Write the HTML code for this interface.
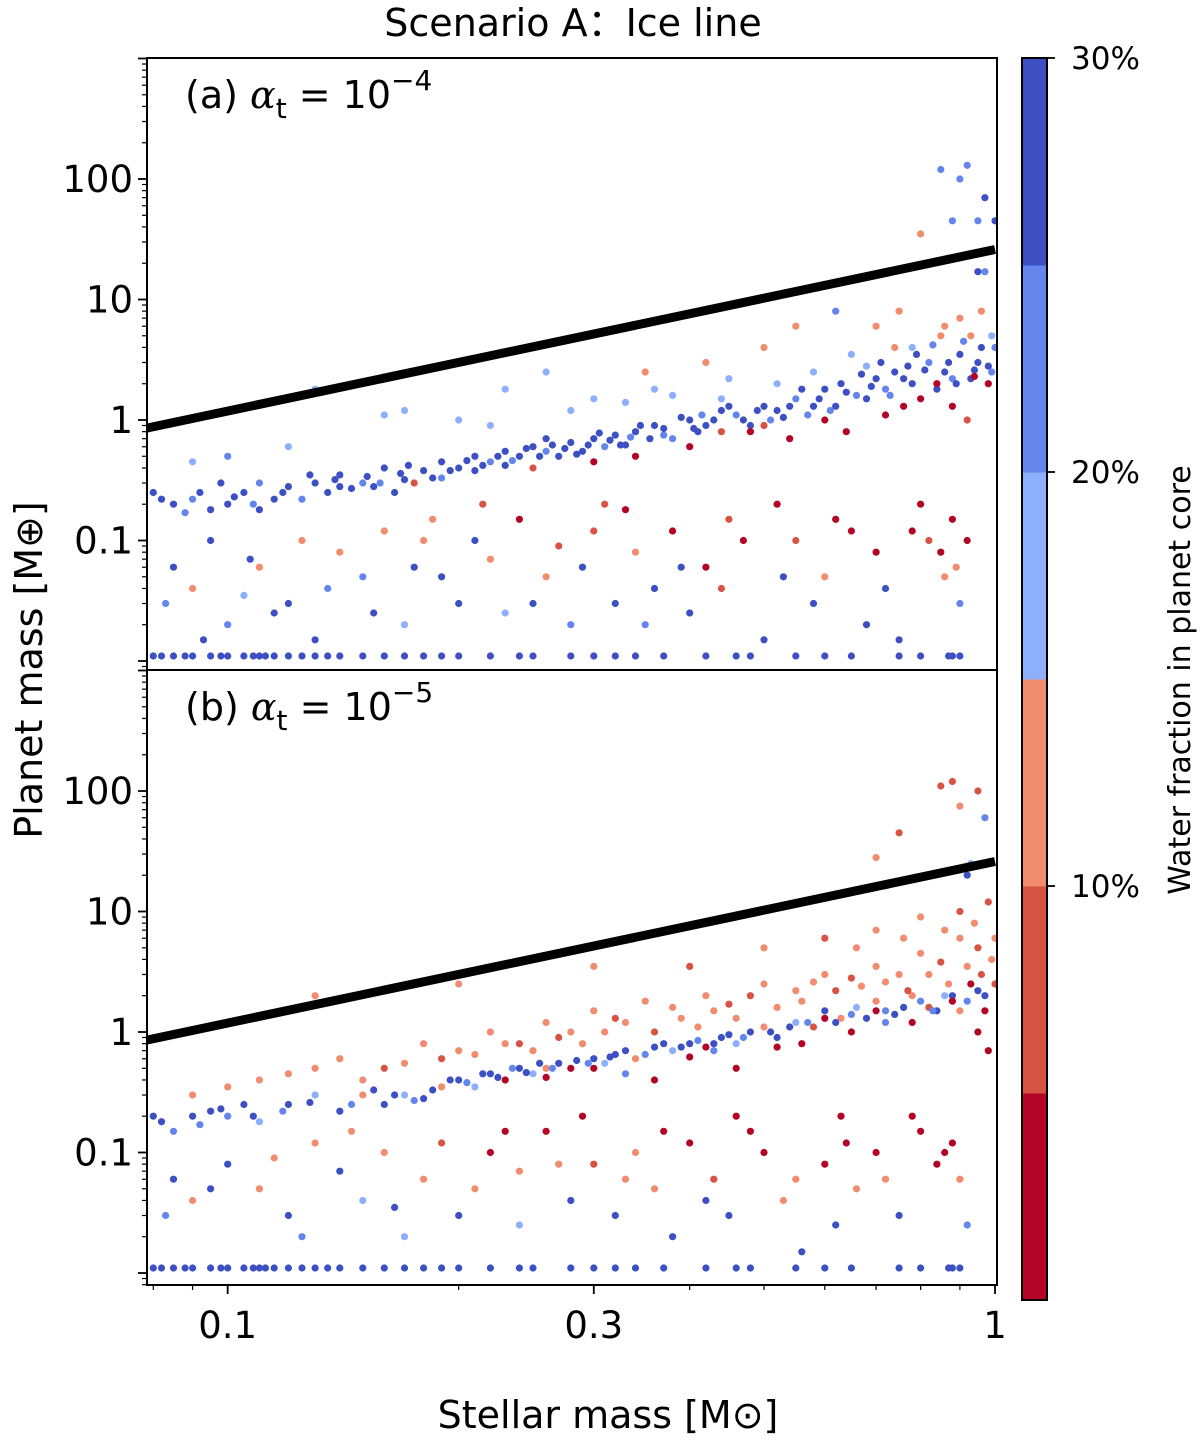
<!DOCTYPE html>
<html><head><meta charset="utf-8"><style>
body{margin:0;background:#fff}
svg{display:block;font-family:"DejaVu Sans","Liberation Sans",sans-serif}
</style></head><body>
<svg id="chart" width="1200" height="1445" viewBox="0 0 1200 1445" xmlns="http://www.w3.org/2000/svg">
<text x="573" y="36" font-size="38" text-anchor="middle">Scenario A：Ice line</text>
<text x="0" y="0" font-size="38" text-anchor="middle" transform="translate(42,670) rotate(-90)">Planet mass [M⊕]</text>
<text x="608" y="1428" font-size="38" text-anchor="middle">Stellar mass [M⊙]</text>
<text x="0" y="0" font-size="30" text-anchor="middle" transform="translate(1190,680) rotate(-90)">Water fraction in planet core</text>
<g id="plot"></g>
</svg>
<script>
// ---- data ----
const xTicks = [0.1, 0.3, 1];
const xTickLabels = ["0.1", "0.3", "1"];
const yTicks = [0.1, 1, 10, 100];
const yTickLabels = ["0.1", "1", "10", "100"];
const cbTicks = [10, 20, 30];
const cbTickLabels = ["10%", "20%", "30%"];
const cbColors = ["#b40426", "#d75445", "#f18c6e", "#8db0fe", "#6485ec", "#3d50c3"];
const lineEnds = [[0.078, 0.85], [1.0, 26]];
const panelLabels = ["(a)", "(b)"];
const panelExps = ["−4", "−5"];
// [stellar mass, planet mass, water %]
const panelA = [
[0.08,0.25,28],[0.085,0.2,28],[0.09,0.22,22],[0.095,0.18,28],[0.1,0.2,28],[0.105,0.25,28],[0.11,0.3,22],[0.115,0.22,28],[0.12,0.28,28],[0.13,0.3,28],[0.135,0.25,28],[0.14,0.35,28],[0.15,0.3,22],[0.155,0.28,28],[0.16,0.4,28],[0.17,0.32,28],[0.175,0.3,7],[0.18,0.38,28],[0.19,0.45,28],[0.2,0.4,28],[0.21,0.5,28],[0.22,0.45,22],[0.23,0.55,28],[0.24,0.5,28],[0.25,0.6,28],[0.26,0.55,22],[0.27,0.5,28],[0.28,0.65,28],[0.3,0.7,28],[0.31,0.6,22],[0.32,0.75,28],[0.34,0.8,28],[0.36,0.9,28],[0.38,0.7,22],[0.4,1.0,28],[0.42,0.9,28],[0.44,1.2,28],[0.46,1.1,22],[0.48,0.9,28],[0.5,1.3,28],[0.52,1.2,28],[0.55,1.5,22],[0.58,1.3,28],[0.6,1.8,28],[0.63,2.0,28],[0.66,1.6,22],[0.7,2.2,28],[0.74,2.5,28],[0.78,2.0,28],[0.82,3.0,22],[0.86,2.5,28],[0.9,3.5,28],[0.95,3.0,28],[1.0,4,22],
[0.14,0.28,28],[0.19,0.33,22],[0.23,0.42,28],[0.29,0.55,28],[0.33,0.62,28],[0.37,0.75,22],[0.41,0.8,28],[0.47,1.0,28],[0.53,1.05,28],[0.57,1.1,22],[0.62,1.3,28],[0.68,1.5,28],[0.72,1.8,22],[0.77,2.8,28],[0.84,1.8,28],[0.88,2.2,22],[0.93,2.2,28],[0.98,2.8,28],[0.11,0.18,28],[0.125,0.22,22],[0.165,0.25,28],[0.21,0.38,28],[0.26,0.7,28],
[0.082,0.22,28],[0.088,0.17,22],[0.092,0.25,28],[0.098,0.3,28],[0.102,0.23,28],[0.108,0.2,22],[0.118,0.25,28],[0.128,0.35,28],[0.138,0.32,28],[0.145,0.27,28],[0.152,0.34,28],[0.158,0.3,22],[0.168,0.36,28],[0.172,0.42,28],[0.185,0.33,28],[0.195,0.38,28],[0.205,0.46,28],[0.215,0.42,28],[0.225,0.5,28],[0.235,0.46,22],[0.245,0.58,28],[0.255,0.5,28],[0.265,0.62,28],[0.275,0.58,28],[0.285,0.52,28],[0.295,0.62,28],[0.305,0.78,28],[0.315,0.68,28],[0.325,0.62,28],[0.335,0.72,22],[0.345,0.9,28],[0.355,0.7,28],[0.37,0.85,28],[0.39,1.05,28],[0.405,0.85,28],[0.415,1.1,22],[0.43,1.0,28],[0.45,1.3,28],[0.49,1.2,28],[0.51,1.0,22],[0.54,1.3,28],[0.56,1.8,28],[0.59,1.5,28],[0.61,1.2,22],[0.64,1.7,28],[0.67,2.4,28],[0.69,1.9,28],[0.71,3.0,28],[0.73,1.6,22],[0.76,2.2,28],[0.79,3.5,28],[0.81,2.6,28],[0.83,4.2,22],[0.87,3.0,28],[0.89,2.0,28],[0.91,4.5,22],[0.94,2.6,28],[0.96,4.0,28],[0.99,2.5,22],
[0.09,0.45,17],[0.1,0.5,22],[0.12,0.6,17],[0.13,1.8,17],[0.16,1.1,17],[0.2,1.0,17],[0.23,1.8,17],[0.26,2.5,17],[0.3,1.5,17],[0.35,2.5,12],[0.42,3,12],[0.5,4,12],[0.55,6,12],[0.62,8,22],[0.7,6,12],[0.75,8,12],[0.85,5,12],[0.9,7,12],[0.95,17,28],[0.97,17,22],[0.98,2,2],[0.92,1.0,7],[0.8,1.5,2],[0.72,1.1,2],[0.6,1.0,2],[0.48,0.8,2],[0.4,0.6,2],[0.3,0.45,2],[0.25,0.4,7],[0.85,120,22],[0.9,100,22],[0.92,130,22],[0.95,45,22],[0.97,70,28],[1.0,45,28],[0.8,35,12],[0.88,45,22],[0.36,1.8,17],[0.45,2.2,17],[0.52,2.0,17],[0.65,3.5,17],[0.78,4.0,17],
[0.17,1.2,17],[0.22,0.9,17],[0.28,1.2,17],[0.33,1.4,17],[0.38,1.6,17],[0.44,1.5,17],[0.58,2.5,17],[0.68,2.8,17],[0.74,4,12],[0.86,6,12],[0.93,5,12],[0.96,8,12],[0.99,5,17],[0.64,0.8,2],[0.76,1.3,2],[0.84,2.0,2],[0.88,1.3,2],[0.94,2.3,2],[0.54,0.7,2],[0.44,0.8,7],[0.34,0.5,2],[0.5,0.9,7],
[0.085,0.06,28],[0.09,0.04,12],[0.1,0.02,22],[0.11,0.06,12],[0.12,0.03,28],[0.13,0.015,28],[0.14,0.08,12],[0.15,0.05,22],[0.16,0.12,12],[0.18,0.1,12],[0.2,0.03,28],[0.22,0.07,12],[0.24,0.15,2],[0.26,0.05,12],[0.28,0.02,22],[0.3,0.12,7],[0.32,0.03,28],[0.34,0.08,12],[0.36,0.04,28],[0.38,0.12,2],[0.42,0.06,2],[0.45,0.15,7],[0.5,0.015,28],[0.52,0.2,2],[0.55,0.1,7],[0.6,0.05,12],[0.65,0.12,2],[0.7,0.08,2],[0.75,0.015,28],[0.8,0.2,2],[0.82,0.1,7],[0.86,0.05,12],[0.88,0.15,2],[0.9,0.03,22],[0.33,0.18,2],[0.44,0.04,7],[0.27,0.09,7],[0.095,0.1,28],[0.105,0.035,17],[0.115,0.025,28],[0.17,0.02,17],[0.19,0.05,28],[0.23,0.025,17],[0.29,0.06,28],[0.4,0.025,28],[0.58,0.03,28],[0.68,0.02,28],
[0.083,0.03,22],[0.093,0.015,28],[0.107,0.07,28],[0.125,0.1,12],[0.135,0.04,22],[0.155,0.025,28],[0.175,0.06,28],[0.185,0.15,12],[0.21,0.1,28],[0.215,0.2,7],[0.25,0.03,28],[0.31,0.2,7],[0.35,0.02,22],[0.39,0.06,28],[0.47,0.1,2],[0.53,0.05,28],[0.62,0.15,2],[0.72,0.04,28],[0.78,0.12,2],[0.85,0.08,2],[0.89,0.06,12],[0.92,0.1,2],
[0.08,0.011,28],[0.085,0.011,28],[0.09,0.011,28],[0.095,0.011,28],[0.1,0.011,28],[0.105,0.011,28],[0.11,0.011,28],[0.115,0.011,28],[0.12,0.011,28],[0.13,0.011,28],[0.14,0.011,28],[0.15,0.011,28],[0.16,0.011,28],[0.18,0.011,28],[0.2,0.011,28],[0.22,0.011,28],[0.25,0.011,28],[0.28,0.011,28],[0.32,0.011,28],[0.37,0.011,28],[0.42,0.011,28],[0.48,0.011,28],[0.55,0.011,28],[0.65,0.011,28],[0.75,0.011,28],[0.8,0.011,28],[0.88,0.011,28],[0.9,0.011,28],
[0.082,0.011,28],[0.088,0.011,28],[0.098,0.011,28],[0.108,0.011,28],[0.112,0.011,28],[0.125,0.011,28],[0.135,0.011,28],[0.17,0.011,28],[0.19,0.011,28],[0.24,0.011,28],[0.3,0.011,28],[0.34,0.011,28],[0.46,0.011,28],[0.6,0.011,28],[0.87,0.011,28]
];
const panelB = [
[0.08,0.2,28],[0.085,0.15,22],[0.09,0.2,28],[0.095,0.22,28],[0.1,0.2,22],[0.105,0.25,28],[0.11,0.18,17],[0.12,0.25,28],[0.13,0.3,17],[0.14,0.22,28],[0.15,0.3,12],[0.16,0.25,28],[0.17,0.3,17],[0.18,0.28,28],[0.19,0.35,12],[0.2,0.4,28],[0.21,0.35,17],[0.22,0.45,28],[0.23,0.4,2],[0.24,0.5,28],[0.25,0.45,17],[0.26,0.5,12],[0.27,0.55,28],[0.28,0.5,2],[0.3,0.6,28],[0.31,0.55,17],[0.32,0.65,28],[0.34,0.6,12],[0.36,0.75,28],[0.38,0.7,17],[0.4,0.8,28],[0.42,0.75,2],[0.44,0.9,28],[0.46,0.8,17],[0.48,1.0,28],[0.5,1.1,12],[0.52,0.9,28],[0.55,1.2,17],[0.58,1.1,7],[0.6,1.5,28],[0.63,1.3,12],[0.66,1.6,17],[0.7,1.8,12],[0.74,1.4,28],[0.78,2.0,12],[0.82,1.6,7],[0.86,2.0,17],[0.9,1.5,12],[0.95,2.2,28],[1.0,2.5,7],
[0.082,0.18,28],[0.092,0.17,22],[0.098,0.23,28],[0.108,0.2,28],[0.118,0.22,22],[0.128,0.26,28],[0.145,0.25,22],[0.155,0.33,28],[0.165,0.3,28],[0.175,0.27,22],[0.185,0.33,28],[0.195,0.4,28],[0.205,0.38,22],[0.215,0.45,28],[0.225,0.42,28],[0.235,0.5,22],[0.245,0.46,28],[0.255,0.55,28],[0.265,0.5,22],[0.285,0.58,28],[0.295,0.55,22],[0.315,0.62,28],[0.33,0.7,28],[0.35,0.65,22],[0.37,0.8,28],[0.39,0.75,28],[0.41,0.85,22],[0.43,0.8,28],[0.45,0.95,28],[0.47,0.9,22],[0.51,1.0,28],[0.54,1.1,28],[0.57,1.2,22],[0.62,1.2,28],[0.65,1.4,22],[0.68,1.3,28],[0.72,1.5,22],[0.76,1.6,28],[0.8,1.8,22],[0.84,1.5,28],[0.88,2.0,28],[0.92,1.8,22],[0.97,2.0,28],
[0.1,0.35,12],[0.12,0.45,12],[0.14,0.6,12],[0.16,0.5,7],[0.18,0.8,12],[0.2,0.7,12],[0.22,1.0,12],[0.24,0.8,7],[0.26,1.2,12],[0.28,1.0,12],[0.3,1.5,12],[0.32,1.3,7],[0.35,1.8,12],[0.38,1.6,12],[0.42,2.0,12],[0.45,1.7,7],[0.5,2.5,12],[0.55,2.2,12],[0.6,3.0,12],[0.65,2.8,7],[0.7,3.5,12],[0.75,3.0,12],[0.8,4.5,12],[0.85,3.8,7],[0.9,6,12],[0.95,5,7],[1.0,6,12],[0.13,2.0,12],[0.2,2.5,12],[0.3,3.5,12],[0.4,3.5,7],[0.5,5,12],[0.6,6,7],[0.7,7,12],[0.8,9,12],[0.9,10,7],[0.98,12,7],
[0.09,0.3,12],[0.11,0.4,12],[0.13,0.5,12],[0.15,0.4,12],[0.17,0.55,12],[0.19,0.6,7],[0.21,0.65,12],[0.23,0.8,12],[0.25,0.7,12],[0.27,0.9,7],[0.29,0.8,12],[0.31,1.0,12],[0.33,1.2,12],[0.36,1.0,7],[0.39,1.3,12],[0.41,1.1,12],[0.43,1.5,12],[0.46,1.3,12],[0.48,2.0,7],[0.52,1.6,12],[0.56,1.8,12],[0.58,2.6,12],[0.62,2.2,7],[0.67,2.4,12],[0.72,2.6,12],[0.77,2.2,7],[0.82,3.0,12],[0.87,2.5,12],[0.92,3.5,12],[0.96,3.0,7],[0.99,4,12],[0.66,5,12],[0.76,6,12],[0.86,7,12],[0.94,8,12],
[0.85,110,7],[0.88,120,7],[0.9,75,12],[0.95,100,7],[0.97,60,22],[0.75,45,7],[0.7,28,12],[0.93,25,17],[0.92,20,28],[0.65,1.0,2],[0.56,0.8,2],[0.46,0.5,2],[0.36,0.4,2],[0.95,1.0,2],[0.98,0.7,2],[0.72,1.2,22],[0.83,1.5,22],[0.43,0.7,22],[0.33,0.45,22],
[0.26,0.42,2],[0.3,0.5,2],[0.4,0.62,2],[0.52,0.75,2],[0.6,1.3,2],[0.7,1.5,2],[0.78,1.2,2],[0.88,1.8,2],[0.93,2.5,2],[0.97,1.5,2],
[0.085,0.06,28],[0.09,0.04,12],[0.1,0.08,28],[0.11,0.05,12],[0.12,0.03,28],[0.13,0.12,12],[0.14,0.07,28],[0.15,0.04,17],[0.16,0.1,12],[0.18,0.06,12],[0.2,0.03,28],[0.22,0.1,2],[0.24,0.07,12],[0.26,0.15,2],[0.28,0.04,28],[0.3,0.08,7],[0.32,0.03,28],[0.34,0.1,12],[0.36,0.05,12],[0.38,0.02,28],[0.4,0.12,2],[0.43,0.06,7],[0.46,0.2,2],[0.5,0.1,2],[0.53,0.04,12],[0.56,0.015,28],[0.6,0.08,2],[0.63,0.2,2],[0.66,0.05,12],[0.7,0.1,2],[0.75,0.03,28],[0.8,0.15,2],[0.84,0.08,2],[0.88,0.12,2],[0.9,0.06,12],[0.92,0.025,22],[0.24,0.025,17],[0.17,0.02,17],[0.45,0.03,28],[0.62,0.025,28],
[0.083,0.03,22],[0.095,0.05,28],[0.115,0.09,12],[0.125,0.02,22],[0.145,0.15,12],[0.165,0.035,28],[0.19,0.12,7],[0.21,0.05,12],[0.23,0.15,2],[0.27,0.08,12],[0.29,0.2,2],[0.33,0.06,12],[0.37,0.15,2],[0.42,0.04,28],[0.48,0.15,2],[0.55,0.06,12],[0.64,0.12,2],[0.72,0.06,12],[0.78,0.2,2],[0.86,0.1,2],
[0.08,0.011,28],[0.085,0.011,28],[0.09,0.011,28],[0.095,0.011,28],[0.1,0.011,28],[0.105,0.011,28],[0.11,0.011,28],[0.115,0.011,28],[0.12,0.011,28],[0.13,0.011,28],[0.14,0.011,28],[0.15,0.011,28],[0.16,0.011,28],[0.18,0.011,28],[0.2,0.011,28],[0.22,0.011,28],[0.25,0.011,28],[0.28,0.011,28],[0.32,0.011,28],[0.37,0.011,28],[0.42,0.011,28],[0.48,0.011,28],[0.55,0.011,28],[0.65,0.011,28],[0.75,0.011,28],[0.8,0.011,28],[0.88,0.011,28],[0.9,0.011,28],
[0.082,0.011,28],[0.088,0.011,28],[0.098,0.011,28],[0.108,0.011,28],[0.112,0.011,28],[0.125,0.011,28],[0.135,0.011,28],[0.17,0.011,28],[0.19,0.011,28],[0.24,0.011,28],[0.3,0.011,28],[0.34,0.011,28],[0.46,0.011,28],[0.6,0.011,28],[0.87,0.011,28]
];
// ---- drawing ----
const NS = "http://www.w3.org/2000/svg";
const g = document.getElementById("plot");
function mk(tag, attrs, parent) {
  const e = document.createElementNS(NS, tag);
  for (const k in attrs) e.setAttribute(k, attrs[k]);
  (parent || g).appendChild(e);
  return e;
}
const X0 = 147, X1 = 997;
const xMin = 0.0785, xMax = 1.006;
function xs(v) { return X0 + (Math.log10(v) - Math.log10(xMin)) / (Math.log10(xMax) - Math.log10(xMin)) * (X1 - X0); }
const panels = [{top: 58, bot: 670, y1: 420, data: panelA}, {top: 670, bot: 1285, y1: 1032, data: panelB}];
function colorFor(w) { const i = Math.max(0, Math.min(5, Math.floor(w / 5))); return cbColors[i]; }
panels.forEach((p, pi) => {
  const ys = v => p.y1 - Math.log10(v) * 120.5;
  const pg = mk("g", {});
  
  
  const clipId = "clip" + pi;
  const cp = mk("clipPath", {id: clipId}, pg);
  mk("rect", {x: X0, y: p.top, width: X1 - X0, height: p.bot - p.top}, cp);
  const pts = mk("g", {"clip-path": "url(#" + clipId + ")"}, pg);
  p.data.forEach(d => {
    const c = mk("circle", {cx: xs(d[0]).toFixed(1), cy: ys(d[1]).toFixed(1), r: 3.6, fill: colorFor(d[2])}, pts);
    
    
  });
  const ln = mk("line", {x1: xs(lineEnds[0][0]), y1: ys(lineEnds[0][1]), x2: xs(lineEnds[1][0]), y2: ys(lineEnds[1][1]), stroke: "#000", "stroke-width": 9}, pts);
  
  
  const fr = mk("rect", {x: X0, y: p.top, width: X1 - X0, height: p.bot - p.top, fill: "none", stroke: "#000", "stroke-width": 2}, pg);
  
  
  for (let e = -3; e <= 3; e++) for (let m = 1; m <= 9; m++) {
    const v = m * Math.pow(10, e), y = ys(v);
    if (y < p.top - 0.5 || y > p.bot + 0.5) continue;
    mk("line", {x1: X0, x2: X0 - (m === 1 ? 9 : 5), y1: y, y2: y, stroke: "#000", "stroke-width": m === 1 ? 1.8 : 1.2}, pg);
  }
  yTicks.forEach((v, i) => {
    const t = mk("text", {x: X0 - 14, y: ys(v) + 13, "font-size": 37, "text-anchor": "end"}, pg);
    t.textContent = yTickLabels[i];
    
    
  });
  const lab = mk("text", {x: 185, y: p.top + 50, "font-size": 38}, pg);
  
  
  lab.innerHTML = panelLabels[pi] + ' <tspan font-style="italic" font-family="DejaVu Serif,serif">α</tspan><tspan font-size="28" dy="10">t</tspan><tspan dy="-10"> = 10</tspan><tspan font-size="28" dy="-18">' + panelExps[pi] + '</tspan>';
});
const xb = 1285;
for (let e = -2; e <= 0; e++) for (let m = 1; m <= 9; m++) {
  const v = m * Math.pow(10, e), x = xs(v);
  if (x < X0 - 0.5 || x > X1 + 0.5) continue;
  const major = xTicks.indexOf(+v.toFixed(3)) >= 0;
  mk("line", {x1: x, x2: x, y1: xb, y2: xb + (major ? 9 : 5), stroke: "#000", "stroke-width": major ? 1.8 : 1.2});
}
xTicks.forEach((v, i) => {
  const t = mk("text", {x: xs(v), y: 1338, "font-size": 37, "text-anchor": "middle"});
  t.textContent = xTickLabels[i];
  
  
});
const cbTop = 58, cbBot = 1300, cbX = 1022, cbW = 25;
const seg = (cbBot - cbTop) / cbColors.length;
cbColors.forEach((c, i) => {
  const r = mk("rect", {x: cbX, y: cbBot - (i + 1) * seg, width: cbW, height: seg + 0.5, fill: c});
  
  
});
mk("rect", {x: cbX, y: cbTop, width: cbW, height: cbBot - cbTop, fill: "none", stroke: "#000", "stroke-width": 2});
cbTicks.forEach((v, i) => {
  const y = cbBot - v / 30 * (cbBot - cbTop);
  mk("line", {x1: cbX + cbW, x2: cbX + cbW + 8, y1: y, y2: y, stroke: "#000", "stroke-width": 1.8});
  const t = mk("text", {x: cbX + cbW + 24, y: y + 11, "font-size": 31});
  t.textContent = cbTickLabels[i];
  
  
});
</script>
</body></html>
